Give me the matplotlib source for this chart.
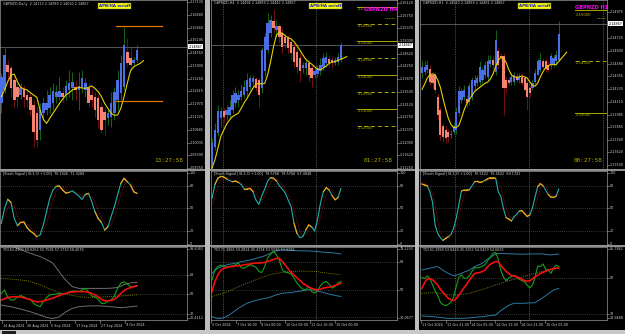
import matplotlib
matplotlib.use('Agg')
import matplotlib.pyplot as plt
import matplotlib.transforms as mtrans
from matplotlib.patches import Rectangle

# ---------------- DATA ----------------
# Panel 1 : GBPNZD Daily (Heiken Ashi candles)
d1_open = [2.1201, 2.1269, 2.1395, 2.1378, 2.1319, 2.1282, 2.1243, 2.1272, 2.1243, 2.1235,
           2.1193, 2.1151, 2.1067, 2.1151, 2.1168, 2.1176, 2.1201, 2.1235, 2.1235, 2.1252,
           2.1243, 2.1269, 2.1277, 2.1285, 2.1269, 2.1277, 2.1269, 2.1277, 2.1243, 2.1235,
           2.1227, 2.1184, 2.1159, 2.1126, 2.1134, 2.1151, 2.1218, 2.1252, 2.1285, 2.1462,
           2.1429, 2.1403, 2.1420]
d1_close = [2.1336, 2.1445, 2.1361, 2.1277, 2.1218, 2.1235, 2.1277, 2.1235, 2.1218, 2.1168,
            2.1058, 2.1016, 2.1168, 2.1201, 2.1201, 2.1243, 2.1265, 2.1260, 2.1265, 2.1232,
            2.1289, 2.1302, 2.1311, 2.1269, 2.1289, 2.1328, 2.1302, 2.1201, 2.1218, 2.1168,
            2.1117, 2.1067, 2.1117, 2.1151, 2.1201, 2.1260, 2.1319, 2.1403, 2.1496, 2.1403,
            2.1395, 2.1420, 2.1471]
d1_high = [2.1353, 2.1479, 2.1420, 2.1395, 2.1336, 2.1302, 2.1302, 2.1294, 2.1269, 2.1252,
           2.1218, 2.1184, 2.1201, 2.1235, 2.1269, 2.1285, 2.1302, 2.1294, 2.1336, 2.1285,
           2.1319, 2.1370, 2.1361, 2.1319, 2.1361, 2.1370, 2.1328, 2.1302, 2.1269, 2.1260,
           2.1243, 2.1201, 2.1184, 2.1168, 2.1260, 2.1285, 2.1370, 2.1445, 2.1588, 2.1529,
           2.1487, 2.1437, 2.1495]
d1_low = [2.1151, 2.1252, 2.1319, 2.1235, 2.1184, 2.1184, 2.1218, 2.1184, 2.1184, 2.1142,
          2.0983, 2.0983, 2.1016, 2.1117, 2.1142, 2.1151, 2.1168, 2.1201, 2.1218, 2.1210,
          2.1218, 2.1235, 2.1218, 2.1218, 2.1168, 2.1252, 2.1235, 2.1184, 2.1184, 2.1134,
          2.1075, 2.1050, 2.1041, 2.1092, 2.1083, 2.1117, 2.1168, 2.1218, 2.1269, 2.1386,
          2.1370, 2.1395, 2.1412]
d1_ma = [2.1235, 2.1269, 2.1311, 2.1344, 2.1349, 2.1311, 2.1282, 2.1274, 2.1269, 2.1255,
         2.1243, 2.1232, 2.1168, 2.1121, 2.1100, 2.1126, 2.1151, 2.1176, 2.1201, 2.1223,
         2.1243, 2.1255, 2.1269, 2.1275, 2.1282, 2.1279, 2.1277, 2.1282, 2.1289, 2.1277,
         2.1260, 2.1235, 2.1201, 2.1176, 2.1151, 2.1142, 2.1142, 2.1176, 2.1235, 2.1302,
         2.1366, 2.1386, 2.1395, 2.1403, 2.1417]
d1_hlines = [2.1592, 2.1213]
d1_price_ticks = [2.17130, 2.16480, 2.15840, 2.15195, 2.14550, 2.13900, 2.13260,
                  2.12615, 2.11970, 2.11325, 2.10685, 2.10035, 2.09390, 2.08750]
d1_time_labels = ["14 Aug 2024", "26 Aug 2024", "5 Sep 2024", "17 Sep 2024", "27 Sep 2024", "9 Oct 2024"]
d1_time_pos = [0.2, 7.6, 15.1, 22.8, 30.6, 38.3]

s1_main = [29.8, 49.8, 61.8, 57.8, 36.4, 26.7, 31.1, 31.6, 24.0, 19.6, 16.4, 12.0, 14.2, 27.6, 45.3,
           63.1, 74.2, 79.1, 79.6, 74.2, 70.2, 71.1, 73.3, 69.8, 66.2, 61.8, 68.4, 69.8, 58.7, 45.3,
           36.4, 31.1, 20.9, 25.3, 38.7, 52.0, 67.6, 83.1, 89.8, 85.3, 80.9, 72.0, 69.8]
s1_signal = [35, 40, 50, 56, 52, 40, 31, 30, 29, 25, 20, 16, 14, 18, 29, 45, 61, 72, 77, 78, 75, 72,
             72, 71, 70, 66, 65, 67, 66, 58, 47, 38, 30, 26, 28, 38, 53, 68, 80, 86, 85, 79, 74]
s1_orange = [2, 5, 6, 7, 8, 9, 10, 17, 18, 19, 20, 26, 29, 30, 32, 37, 38, 40, 41]

t1_green = [50.9, 54.0, 47.2, 44.8, 44.8, 47.8, 48.8, 47.8, 46.0, 45.4, 41.7, 39.8, 38.6, 43.2, 47.2,
            49.4, 50.0, 50.3, 50.9, 50.0, 50.9, 52.2, 53.1, 53.1, 52.5, 54.0, 55.5, 52.5, 48.5, 47.8,
            45.4, 41.7, 41.7, 43.8, 44.8, 48.5, 55.5, 60.2, 61.7, 59.5, 57.1, 57.1, 57.7]
t1_red = [44.8, 46.0, 47.2, 47.5, 47.8, 47.8, 47.5, 46.9, 46.0, 45.1, 43.8, 43.2, 43.2, 43.8, 44.8,
          45.7, 46.6, 47.8, 49.1, 50.0, 50.9, 51.8, 52.2, 52.5, 52.5, 52.5, 52.5, 51.8, 50.9, 49.4,
          47.8, 45.4, 44.2, 44.2, 44.5, 45.4, 47.8, 50.9, 53.4, 55.2, 56.2, 57.1, 58.0]
t1_base = [64.8, 64.6, 64.3, 64.1, 63.8, 63.5, 63.2, 62.8, 62.5, 61.7, 60.8, 60.0, 58.8, 57.5, 56.2,
           55.0, 53.8, 52.5, 51.8, 51.0, 50.2, 49.5, 49.0, 48.5, 48.0, 47.5, 47.4, 47.3, 47.2, 47.3,
           47.4, 47.5, 47.7, 47.8, 48.0, 48.2, 48.3, 48.5, 48.7, 49.0, 49.2, 49.4, 49.6]
t1_upper = [99, 98, 96.5, 95, 93.5, 92.5, 91.5, 90, 88.8, 87.8, 86.8, 85.8, 84.8, 83.5, 82, 80.5,
            78.6, 74.5, 70.5, 66.3, 63, 60, 57.1, 56.3, 55.5, 55.5, 55.5, 55.5, 55.5, 55.5, 55.5,
            55.5, 55.5, 55.6, 55.7, 56.0, 56.5, 57.5, 59, 59.8, 60.5, 60.8, 61]
t1_lower = [40.2, 39.7, 39.1, 38.6, 37.9, 37.2, 36.5, 35.7, 34.8, 34.0, 33.0, 32.0, 31.0, 29.9, 28.8,
            28.3, 27.8, 28.6, 29.4, 31.7, 34.0, 35.6, 37.1, 37.9, 38.6, 38.9, 39.2, 39.3, 39.4, 39.4,
            39.5, 39.3, 39.1, 38.9, 38.6, 38.3, 38.0, 37.7, 38.0, 38.3, 38.6, 38.9, 39.2]

# Panel 2 : GBPNZD H4
d2_open = [2.1125, 2.1188, 2.1228, 2.1272, 2.1292, 2.1282, 2.1282, 2.1297, 2.1316, 2.1326,
           2.1336, 2.1341, 2.1351, 2.1365, 2.1380, 2.1387, 2.1385, 2.1361, 2.1410, 2.1473,
           2.1523, 2.1560, 2.1532, 2.1544, 2.1523, 2.1513, 2.1508, 2.1498, 2.1483, 2.1468,
           2.1449, 2.1420, 2.1420, 2.1434, 2.1420, 2.1400, 2.1403, 2.1410, 2.1424, 2.1434,
           2.1446, 2.1444, 2.1436, 2.1439, 2.1444]
d2_close = [2.1198, 2.1237, 2.1292, 2.1292, 2.1277, 2.1297, 2.1306, 2.1341, 2.1346, 2.1341,
            2.1351, 2.1365, 2.1385, 2.1390, 2.1390, 2.1361, 2.1341, 2.1473, 2.1513, 2.1552,
            2.1562, 2.1537, 2.1544, 2.1513, 2.1483, 2.1493, 2.1478, 2.1464, 2.1439, 2.1424,
            2.1410, 2.1429, 2.1434, 2.1400, 2.1390, 2.1410, 2.1420, 2.1429, 2.1449, 2.1454,
            2.1434, 2.1434, 2.1444, 2.1452, 2.1487]
d2_high = [2.1213, 2.1257, 2.1311, 2.1306, 2.1302, 2.1311, 2.1326, 2.1356, 2.1365, 2.1356,
           2.1370, 2.1385, 2.1405, 2.1400, 2.1400, 2.1395, 2.1390, 2.1483, 2.1523, 2.1582,
           2.1577, 2.1591, 2.1562, 2.1552, 2.1537, 2.1523, 2.1518, 2.1508, 2.1495, 2.1478,
           2.1464, 2.1439, 2.1444, 2.1444, 2.1429, 2.1424, 2.1429, 2.1449, 2.1464, 2.1468,
           2.1459, 2.1454, 2.1454, 2.1464, 2.1498]
d2_low = [2.1120, 2.1178, 2.1218, 2.1247, 2.1262, 2.1267, 2.1272, 2.1287, 2.1306, 2.1306,
          2.1326, 2.1331, 2.1336, 2.1356, 2.1365, 2.1351, 2.1306, 2.1346, 2.1395, 2.1464,
          2.1513, 2.1523, 2.1513, 2.1493, 2.1464, 2.1478, 2.1464, 2.1444, 2.1419, 2.1405,
          2.1380, 2.1405, 2.1400, 2.1380, 2.1365, 2.1390, 2.1395, 2.1400, 2.1415, 2.1424,
          2.1424, 2.1420, 2.1429, 2.1429, 2.1439]
d2_ma = [2.1125, 2.1149, 2.1183, 2.1218, 2.1237, 2.1255, 2.1267, 2.1277, 2.1282, 2.1287,
         2.1302, 2.1318, 2.1331, 2.1346, 2.1361, 2.1372, 2.1375, 2.1373, 2.1375, 2.1400,
         2.1439, 2.1483, 2.1518, 2.1525, 2.1523, 2.1515, 2.1510, 2.1506, 2.1498, 2.1486,
         2.1473, 2.1459, 2.1446, 2.1438, 2.1432, 2.1424, 2.1417, 2.1415, 2.1420, 2.1426,
         2.1434, 2.1438, 2.1439, 2.1443, 2.1446, 2.1450, 2.1454]
d2_levels = [2.16000, 2.15500, 2.15000, 2.14500, 2.14000, 2.13500, 2.13000, 2.12500]
d2_level_labels = ["2.16000", "2.15500", "2.15000", "2.14500", "2.14000", "2.13500", "2.13000", "2.12500"]
d2_price_ticks = [2.16120, 2.15750, 2.15370, 2.15000, 2.14620, 2.14250, 2.13870,
                  2.13500, 2.13120, 2.12750, 2.12370, 2.12000, 2.11620, 2.11250]
d2_time_labels = ["3 Oct 2024", "7 Oct 16:00", "9 Oct 00:00", "10 Oct 08:00", "11 Oct 16:00", "15 Oct 00:00"]
d2_time_pos = [-0.3, 8.2, 16.4, 24.9, 33.4, 41.9]
d2_separators = [3.8, 35.5]

s2_main = [63.1, 81.8, 89.8, 92.4, 91.6, 88.9, 86.7, 85.3, 86.2, 84.4, 81.3, 75.6, 75.6, 76.4, 72.0,
           60.9, 55.1, 66.7, 75.6, 86.2, 90.7, 89.8, 86.2, 80.0, 75.6, 70.2, 60.9, 52.0, 29.8, 16.4,
           10.7, 12.0, 20.9, 27.6, 25.3, 19.6, 34.2, 56.4, 72.0, 77.3, 74.2, 66.7, 61.3, 64.0, 76.4]
s2_signal = [55, 65, 78, 88, 91, 91, 89, 87, 86, 85, 84, 81, 78, 76, 75, 70, 63, 61, 66, 76, 84, 89,
             89, 85, 81, 75, 69, 61, 47, 33, 19, 13, 15, 20, 24, 24, 26, 37, 54, 68, 75, 73, 68, 64, 67]
s2_orange = [1, 2, 3, 4, 7, 8, 11, 12, 13, 20, 21, 28, 32, 33, 38, 39, 41, 42]

t2_green = [56.6, 63.2, 65.4, 66.3, 65.4, 64.9, 65.4, 65.8, 66.5, 67.6, 64.5, 64.3, 65.4, 66.5, 65.8,
            64.9, 62.1, 61.4, 65.4, 70.9, 73.5, 75.3, 73.1, 69.3, 63.2, 61.6, 61.2, 60.5, 57.7, 54.4,
            52.2, 50.4, 50.0, 52.2, 48.9, 47.8, 49.6, 52.6, 54.8, 55.5, 53.7, 51.1, 52.2, 54.4, 55.5]
t2_red = [48.9, 55.5, 59.9, 62.7, 64.1, 64.7, 65.2, 65.4, 65.6, 65.8, 66.0, 66.5, 66.7, 67.1, 67.4,
          67.6, 67.6, 67.8, 68.0, 68.7, 69.3, 70.0, 70.7, 70.7, 68.7, 66.3, 63.8, 61.4, 59.7, 57.9,
          56.2, 54.4, 53.1, 52.0, 50.9, 50.2, 50.0, 50.4, 51.1, 51.5, 51.8, 52.2, 52.9, 53.5, 54.4]
t2_base = [45.6, 46.2, 46.8, 47.3, 47.9, 48.5, 49.4, 50.3, 51.1, 52.0, 52.9, 53.6, 54.4, 55.1, 55.9,
           56.6, 57.3, 58.0, 58.7, 59.4, 60.1, 60.5, 60.8, 61.2, 61.5, 61.9, 62.0, 62.1, 62.2, 62.2,
           62.3, 62.3, 62.3, 62.2, 62.2, 62.1, 61.9, 61.6, 61.3, 61.1, 60.8, 60.6, 60.4, 60.1, 59.9]
t2_upper = [61.0, 62.6, 64.3, 65.0, 65.8, 66.4, 66.9, 67.2, 67.6, 68.0, 68.5, 68.9, 69.3, 69.7, 70.2,
            70.7, 71.3, 71.8, 72.4, 73.3, 74.2, 75.0, 75.7, 76.0, 76.4, 76.3, 76.2, 76.0, 75.9, 75.8,
            75.7, 75.7, 75.7, 75.6, 75.5, 75.4, 75.3, 75.0, 74.8, 74.7, 74.6, 74.4, 74.2, 73.9, 73.7]
t2_lower = [32.4, 31.6, 30.9, 31.2, 31.5, 32.5, 33.5, 35.0, 36.4, 37.7, 39.0, 40.1, 41.2, 41.8, 42.5,
            43.0, 43.4, 43.9, 44.3, 44.7, 45.2, 46.0, 46.7, 47.2, 47.8, 47.9, 48.0, 48.2, 48.5, 48.8,
            49.1, 49.4, 49.8, 49.9, 50.0, 49.6, 49.1, 48.7, 48.2, 47.6, 47.1, 46.7, 46.3, 45.9, 45.6]

# Panel 3 : GBPNZD H1
d3_open = [2.1439, 2.1440, 2.1442, 2.1443, 2.1437, 2.1437, 2.1416, 2.1403, 2.1387, 2.1384,
           2.1382, 2.1379, 2.1382, 2.1384, 2.1400, 2.1413, 2.1416, 2.1414, 2.1411, 2.1416,
           2.1426, 2.1429, 2.1430, 2.1432, 2.1437, 2.1435, 2.1448, 2.1451, 2.1440, 2.1460,
           2.1455, 2.1455, 2.1432, 2.1432, 2.1430, 2.1430, 2.1435, 2.1432, 2.1435, 2.1434,
           2.1429, 2.1424, 2.1424, 2.1430, 2.1437, 2.1442, 2.1450, 2.1450, 2.1447, 2.1447,
           2.1448, 2.1450, 2.1451]
d3_close = [2.1445, 2.1445, 2.1447, 2.1430, 2.1429, 2.1422, 2.1398, 2.1379, 2.1377, 2.1376,
            2.1377, 2.1380, 2.1387, 2.1401, 2.1421, 2.1421, 2.1422, 2.1410, 2.1426, 2.1432,
            2.1432, 2.1434, 2.1445, 2.1442, 2.1447, 2.1450, 2.1451, 2.1447, 2.1471, 2.1447,
            2.1453, 2.1424, 2.1424, 2.1429, 2.1435, 2.1437, 2.1432, 2.1435, 2.1429, 2.1422,
            2.1416, 2.1419, 2.1429, 2.1439, 2.1450, 2.1451, 2.1445, 2.1443, 2.1442, 2.1455,
            2.1453, 2.1456, 2.1477]
d3_high = [2.1450, 2.1450, 2.1451, 2.1447, 2.1440, 2.1440, 2.1419, 2.1406, 2.1390, 2.1387,
           2.1385, 2.1384, 2.1390, 2.1406, 2.1426, 2.1424, 2.1427, 2.1418, 2.1429, 2.1435,
           2.1437, 2.1437, 2.1450, 2.1445, 2.1450, 2.1456, 2.1456, 2.1455, 2.1481, 2.1463,
           2.1458, 2.1458, 2.1435, 2.1435, 2.1439, 2.1440, 2.1439, 2.1439, 2.1439, 2.1437,
           2.1432, 2.1427, 2.1432, 2.1443, 2.1453, 2.1458, 2.1453, 2.1453, 2.1450, 2.1458,
           2.1456, 2.1461, 2.1489]
d3_low = [2.1434, 2.1437, 2.1439, 2.1427, 2.1424, 2.1419, 2.1393, 2.1374, 2.1372, 2.1371,
          2.1372, 2.1376, 2.1380, 2.1380, 2.1397, 2.1410, 2.1413, 2.1406, 2.1408, 2.1413,
          2.1422, 2.1426, 2.1427, 2.1429, 2.1434, 2.1432, 2.1445, 2.1443, 2.1437, 2.1443,
          2.1450, 2.1398, 2.1419, 2.1427, 2.1427, 2.1427, 2.1429, 2.1429, 2.1427, 2.1421,
          2.1403, 2.1416, 2.1422, 2.1427, 2.1437, 2.1440, 2.1443, 2.1440, 2.1440, 2.1443,
          2.1445, 2.1447, 2.1450]
d3_ma = [2.1423, 2.1428, 2.1434, 2.1437, 2.1438, 2.1437, 2.1432, 2.1425, 2.1414, 2.1404,
         2.1395, 2.1389, 2.1386, 2.1386, 2.1388, 2.1395, 2.1403, 2.1409, 2.1413, 2.1417,
         2.1421, 2.1423, 2.1425, 2.1427, 2.1429, 2.1430, 2.1433, 2.1438, 2.1445, 2.1451,
         2.1454, 2.1453, 2.1449, 2.1442, 2.1437, 2.1435, 2.1435, 2.1435, 2.1436, 2.1435,
         2.1434, 2.1430, 2.1427, 2.1426, 2.1429, 2.1435, 2.1440, 2.1444, 2.1446, 2.1447,
         2.1447, 2.1447, 2.1450, 2.1453, 2.1456, 2.1459]
d3_levels = [2.15000, 2.14500, 2.14000]
d3_level_labels = ["2.15000", "2.14500", "2.14000"]
d3_price_ticks = [2.14975, 2.14725, 2.14600, 2.14480, 2.14355, 2.14235, 2.14110,
                  2.13985, 2.13865, 2.13740, 2.13620, 2.13500]
d3_time_labels = ["11 Oct 2024", "11 Oct 21:00", "14 Oct 05:00", "14 Oct 13:00", "14 Oct 21:00", "15 Oct 05:00"]
d3_time_pos = [-0.4, 9.1, 18.3, 27.8, 37.3, 46.8]
d3_separators = [12.5, 40.7]

s3_main = [82.2, 80.9, 79.6, 72.0, 57.8, 27.6, 16.4, 10.7, 7.1, 9.8, 12.0, 15.1, 23.1, 36.4, 54.2,
           72.9, 74.2, 74.2, 74.7, 80.0, 85.3, 85.8, 84.4, 85.3, 87.1, 89.3, 90.7, 90.7, 89.8, 72.0,
           65.3, 48.9, 37.3, 35.6, 32.9, 38.7, 41.8, 46.2, 46.7, 42.7, 39.1, 40.9, 50.7, 65.3, 78.7,
           82.7, 80.0, 74.2, 68.4, 64.9, 64.4, 66.2, 75.6]
s3_signal = [84, 83, 81, 78, 70, 53, 34, 18, 11, 9, 10, 12, 17, 25, 38, 55, 67, 74, 75, 76, 80, 83,
             85, 85, 86, 87, 89, 90, 90, 84, 76, 62, 50, 41, 36, 36, 38, 42, 45, 45, 43, 41, 44, 52,
             65, 76, 80, 79, 74, 69, 66, 65, 69]
s3_orange = [0, 1, 8, 9, 15, 16, 17, 20, 21, 22, 24, 25, 26, 27, 32, 33, 37, 38, 39, 40, 44, 45, 48, 49, 50]

t3_green = [50.5, 49.8, 51.3, 50.0, 46.6, 43.6, 41.2, 37.9, 36.7, 36.2, 36.9, 38.0, 40.4, 45.8, 50.5,
            51.7, 50.0, 50.0, 51.2, 53.5, 55.4, 55.2, 55.6, 56.1, 56.9, 58.9, 60.6, 62.6, 63.0, 59.6,
            53.9, 50.5, 48.8, 50.2, 50.8, 51.5, 50.8, 49.5, 48.8, 48.3, 46.5, 45.1, 46.6, 50.5, 56.2,
            55.9, 57.2, 54.7, 54.2, 52.5, 55.1, 56.6, 55.9]
t3_red = [44.9, 47.8, 49.7, 49.8, 49.2, 48.1, 46.5, 44.4, 42.8, 41.4, 39.9, 39.1, 38.7, 39.7, 41.6,
          43.3, 45.3, 47.0, 49.0, 50.8, 52.4, 52.7, 52.9, 53.5, 54.2, 55.9, 57.1, 57.9, 58.4, 58.4,
          56.4, 54.9, 53.5, 52.4, 51.3, 51.2, 50.8, 50.2, 49.5, 48.8, 48.5, 48.7, 49.7, 50.8, 51.5,
          52.4, 53.0, 53.5, 54.2, 54.5, 54.9, 55.1, 55.1]
t3_base = [42.4, 42.5, 42.6, 42.6, 42.7, 42.8, 42.6, 42.3, 42.1, 41.8, 41.6, 41.6, 41.6, 41.6, 41.6,
           41.8, 42.0, 42.2, 42.4, 42.8, 43.2, 43.6, 44.0, 44.4, 44.8, 45.3, 45.7, 46.2, 46.6, 47.0,
           47.5, 47.9, 48.4, 48.8, 49.1, 49.5, 49.8, 50.2, 50.5, 50.9, 51.3, 51.7, 52.1, 52.5, 52.8,
           53.2, 53.5, 53.9, 54.2, 54.4, 54.7, 54.9, 55.1]
t3_upper = [54.2, 54.5, 54.8, 55.1, 55.4, 55.7, 55.9, 55.0, 54.0, 53.2, 52.5, 51.8, 51.2, 51.6, 52.0,
            52.5, 53.1, 53.6, 54.2, 55.0, 55.9, 56.5, 57.0, 57.6, 58.7, 59.8, 60.6, 61.5, 62.3, 62.5,
            62.6, 62.5, 62.4, 62.4, 62.3, 62.3, 62.2, 62.2, 62.1, 62.2, 62.2, 62.3, 62.3, 62.3, 62.3,
            62.3, 62.3, 62.1, 61.9, 61.8, 62.0, 62.1, 62.3]
t3_lower = [31.0, 30.9, 30.8, 30.7, 30.6, 30.5, 30.4, 30.2, 30.1, 29.9, 29.8, 29.8, 29.8, 29.8, 29.8,
            29.8, 29.8, 29.9, 30.0, 30.1, 30.3, 30.4, 30.5, 30.6, 30.8, 31.0, 31.2, 31.3, 31.5, 32.6,
            33.7, 34.6, 35.5, 36.4, 36.9, 37.4, 37.4, 37.4, 37.4, 37.4, 37.5, 37.6, 37.6, 37.7, 38.6,
            39.4, 40.3, 41.2, 42.1, 43.1, 44.1, 44.5, 44.9]

current_price = 2.14867
headers = ["GBPNZD,Daily  2.14113 2.14989 2.14030 2.14867",
           "GBPNZD,H4  2.14494 2.14889 2.14442 2.14867",
           "GBPNZD,H1  2.14520 2.14889 2.14481 2.14867"]
stoch_headers = ["[Stoch Signal] (8,3,3) +1.00]  76.1026  71.3284",
                 "[Stoch Signal] (8,3,3) +1.00]  78.5768  78.5768  67.4048",
                 "[Stoch Signal] (8,3,3) +1.00]  76.5622  76.5622  69.1741"]
tdi_headers = ["TDI 61.4900 60.6263 55.7596 57.1710 58.4676",
               "TDI 71.3866 59.4824 45.4194 53.5086 53.6286",
               "TDI 61.3999 53.6428 45.2252 54.5429 54.6625"]
clocks = ["13:27:58", "01:27:58", "00:27:58"]

# ---------------- DRAWING ----------------
W, H = 625, 334
fig = plt.figure(figsize=(W / 100, H / 100), dpi=100)
fig.patch.set_facecolor('black')

def rect(x, y, w, h):
    return [x / W, 1 - (y + h) / H, w / W, h / H]

bg = fig.add_axes([0, 0, 1, 1])
bg.set_xlim(0, W)
bg.set_ylim(H, 0)
bg.axis('off')
bg.set_zorder(-10)
for (gx, gw) in [(205, 5), (415, 4)]:
    bg.add_patch(Rectangle((gx, 0), gw, 331, color='#BDBDBD', lw=0))
for (wx, ww) in [(0, 205), (210, 205), (419, 206)]:
    bg.add_patch(Rectangle((wx, 169), ww, 2, color='#8E8E8E', lw=0))
    bg.add_patch(Rectangle((wx, 245), ww, 2, color='#8E8E8E', lw=0))
bg.add_patch(Rectangle((0, 330), W, 4, color='#C8C8C8', lw=0))
bg.add_patch(Rectangle((2, 330.5), 14, 3.5, color='#202020', lw=0))

TXT = '#CFCFCF'
FS = 2.4
BULL, BEAR = '#4A6EE6', '#F7826F'
WBULL, WBEAR = '#1E8C1E', '#A01616'

def style_axes(ax):
    ax.set_facecolor('black')
    ax.set_xticks([])
    ax.set_yticks([])
    for s in ax.spines.values():
        s.set_color('#9A9A9A')
        s.set_linewidth(0.5)

def right_labels(ax, w, values, labels):
    tr = ax.get_yaxis_transform()
    for v, s in zip(values, labels):
        ax.plot([1.0, 1.0 + 1.5 / w], [v, v], transform=tr, color='#AAAAAA', lw=0.4, clip_on=False)
        ax.text(1.0 + 2.5 / w, v, s, transform=tr, ha='left', va='center', fontsize=FS, color=TXT, clip_on=False)

panels = [
    dict(x0=0, w=187, bar0=1.3, sp=3.23, o=d1_open, c=d1_close, hi=d1_high, lo=d1_low, ma=d1_ma,
         ylim=(2.0870, 2.1723), ticks=d1_price_ticks, tl=d1_time_labels, tp=d1_time_pos, seps=[],
         sm=s1_main, ss=s1_signal, so=s1_orange,
         tg=t1_green, tr=t1_red, tb=t1_base, tu=t1_upper, tlw=t1_lower, bandc='#6E6E6E',
         tdi_ylim=(26.41, 93.61), tdi_lab=("93.6083", "26.4112"), tdi_levels=[68, 50, 32]),
    dict(x0=211, w=186, bar0=212, sp=2.93, o=d2_open, c=d2_close, hi=d2_high, lo=d2_low, ma=d2_ma,
         ylim=(2.1122, 2.1621), ticks=d2_price_ticks, tl=d2_time_labels, tp=d2_time_pos, seps=d2_separators,
         sm=s2_main, ss=s2_signal, so=s2_orange,
         tg=t2_green, tr=t2_red, tb=t2_base, tu=t2_upper, tlw=t2_lower, bandc='#2A78A2',
         tdi_ylim=(30.07, 78.22), tdi_lab=("78.2233", "30.0677"), tdi_levels=[68, 50, 32]),
    dict(x0=420, w=187, bar0=422, sp=2.63, o=d3_open, c=d3_close, hi=d3_high, lo=d3_low, ma=d3_ma,
         ylim=(2.13458, 2.15096), ticks=d3_price_ticks, tl=d3_time_labels, tp=d3_time_pos, seps=d3_separators,
         sm=s3_main, ss=s3_signal, so=s3_orange,
         tg=t3_green, tr=t3_red, tb=t3_base, tu=t3_upper, tlw=t3_lower, bandc='#2A78A2',
         tdi_ylim=(28.95, 65.79), tdi_lab=("65.7862", "28.9488"), tdi_levels=[68, 50, 32]),
]

for k, P in enumerate(panels):
    x0, w, sp = P['x0'], P['w'], P['sp']
    left = -(P['bar0'] - x0) / sp
    right = (x0 + w - P['bar0']) / sp
    bw = 0.8

    # ---- main chart ----
    ax = fig.add_axes(rect(x0, 0, w, 169))
    style_axes(ax)
    ax.set_xlim(left, right)
    ax.set_ylim(*P['ylim'])
    n = len(P['o'])
    for i in range(n):
        o, c = P['o'][i], P['c'][i]
        bull = c >= o
        ax.vlines(i, P['lo'][i], P['hi'][i], color=WBULL if bull else WBEAR, lw=0.5, zorder=2)
        ax.bar(i, c - o, bottom=o, width=bw, color=BULL if bull else BEAR, lw=0, zorder=3)
    ax.plot(range(len(P['ma'])), P['ma'], color='#E6D000', lw=0.8, zorder=4)
    ax.axhline(current_price, color='#7A7A7A', lw=0.5, zorder=1)
    for sx in P['seps']:
        ax.axvline(sx, color='#8A8A8A', lw=0.5, ls=(0, (1, 1.5)), zorder=1)
    right_labels(ax, w, P['ticks'], ['%.5f' % v for v in P['ticks']])
    ax.text(1.0 + 1.5 / w, current_price, '%.5f' % current_price, transform=ax.get_yaxis_transform(),
            ha='left', va='center', fontsize=FS, color='black', clip_on=False, zorder=6,
            bbox=dict(facecolor='white', edgecolor='white', pad=0.25, lw=0))
    ax.text(3 / w, 1 - 3.5 / 169, headers[k], transform=ax.transAxes, ha='left', va='center',
            fontsize=FS, color=TXT)
    ax.text(114.5 / w, 1 - 6 / 169, 'APB/HA on/off', transform=ax.transAxes, ha='center', va='center',
            fontsize=2.9, color='#1414C8', weight='bold', zorder=7,
            bbox=dict(facecolor='#FFFF00', edgecolor='#707070', pad=0.5, lw=0.3))
    ax.text(1 - 4 / w, 9 / 169, clocks[k], transform=ax.transAxes, ha='right', va='center',
            fontsize=4.3, color='#B0A800', family='DejaVu Sans Mono')

    if k == 0:
        for hv in d1_hlines:
            ax.plot([35.5, 49.8], [hv, hv], color='#E07800', lw=0.9, zorder=4)
    if k == 1:
        xs_l = (357 - P['bar0']) / sp
        for j, (lv, lab) in enumerate(zip(d2_levels, d2_level_labels)):
            ls = '-' if j % 2 == 0 else (0, (4, 3))
            ax.plot([xs_l, right], [lv, lv], color='#A8A800', lw=0.7, ls=ls, zorder=4)
            if j > 0:
                ax.text(xs_l + 0.4, lv, lab, ha='left', va='top', fontsize=2.7, color='#B8B800', zorder=5)
        ax.text(xs_l + 0.4, d2_levels[0], '2.1', ha='left', va='top', fontsize=2.7, color='#B8B800', zorder=5)
        ax.plot([59, 62.4], [2.1567, 2.1567], color='#A8A800', lw=0.6, ls=(0, (1, 1)))
        ax.text((364 - P['bar0']) / sp, 2.1612 - 6 * 0.000295, 'GBPNZD H4', ha='left', va='center',
                fontsize=3.6, color='#FF00FF', weight='bold', zorder=8)
    if k == 2:
        xs_l = (575 - P['bar0']) / sp
        for j, (lv, lab) in enumerate(zip(d3_levels, d3_level_labels)):
            ls = '-' if j % 2 == 0 else (0, (4, 3))
            ax.plot([xs_l, right], [lv, lv], color='#A8A800', lw=0.7, ls=ls, zorder=4)
            if j > 0:
                ax.text(xs_l + 0.4, lv, lab, ha='left', va='top', fontsize=2.7, color='#B8B800', zorder=5)
        ax.text(xs_l + 0.4, d3_levels[0] - 0.0003, d3_level_labels[0], ha='left', va='top',
                fontsize=2.7, color='#B8B800', zorder=5)
        ax.plot([66.5, 69.6], [2.1492, 2.1492], color='#A8A800', lw=0.6, ls=(0, (1, 1)))
        ax.axvline((603 - P['bar0']) / sp, color='#8A8A8A', lw=0.5, ls=(0, (1, 1.5)), zorder=1)
        ax.text((575 - P['bar0']) / sp, 2.15096 - 7.5 * 0.0000969, 'GBPNZD H1', ha='left', va='center',
                fontsize=3.6, color='#FF00FF', weight='bold', zorder=8)

    # ---- stochastic ----
    sa = fig.add_axes(rect(x0, 171, w, 74))
    style_axes(sa)
    sa.set_xlim(left, right)
    sa.set_ylim(1, 99.6)
    for lv in [80, 50, 20]:
        sa.axhline(lv, color='#6A6A6A', lw=0.5, ls=(0, (1, 2)))
    for sx in P['seps']:
        sa.axvline(sx, color='#8A8A8A', lw=0.5, ls=(0, (1, 1.5)))
    sa.plot(range(len(P['ss'])), P['ss'], color='#9A1010', lw=0.6, ls=(0, (1, 1)))
    sm = P['sm']
    sa.plot(range(len(sm)), sm, color='#20B2AA', lw=0.8)
    for i in P['so']:
        sa.plot([i, i + 1], [sm[i], sm[i + 1]], color='#FFA000', lw=0.8)
    right_labels(sa, w, [97, 80, 50, 20, 2], ['100', '80', '50', '20', '0'])
    sa.text(3 / w, 1 - 3 / 74, stoch_headers[k], transform=sa.transAxes, ha='left', va='center',
            fontsize=FS, color=TXT)

    # ---- TDI ----
    ta = fig.add_axes(rect(x0, 247, w, 73))
    style_axes(ta)
    ta.set_xlim(left, right)
    lo_, hi_ = P['tdi_ylim']
    ta.set_ylim(lo_, hi_)
    for lv in P['tdi_levels']:
        ta.axhline(lv, color='#6A6A6A', lw=0.5, ls=(0, (1, 2)))
    for sx in P['seps']:
        ta.axvline(sx, color='#8A8A8A', lw=0.5, ls=(0, (1, 1.5)))
    m = len(P['tg'])
    ta.plot(range(m), P['tu'], color=P['bandc'], lw=0.7)
    ta.plot(range(m), P['tlw'], color=P['bandc'], lw=0.7)
    ta.plot(range(m), P['tb'], color='#A0A000', lw=0.6, ls=(0, (1, 1.5)))
    ta.plot(range(m), P['tg'], color='#16A016', lw=0.8)
    ta.plot(range(m), P['tr'], color='#F01010', lw=1.2)
    vals = [v for v in P['tdi_levels'] if lo_ + 2 < v < hi_ - 2]
    right_labels(ta, w, [hi_ - (hi_ - lo_) * 0.03] + vals + [lo_ + (hi_ - lo_) * 0.03],
                 [P['tdi_lab'][0]] + [str(v) for v in vals] + [P['tdi_lab'][1]])
    ta.text(3 / w, 1 - 3 / 73, tdi_headers[k], transform=ta.transAxes, ha='left', va='center',
            fontsize=FS, color=TXT)
    bt = mtrans.blended_transform_factory(ta.transData, ta.transAxes)
    for pos, lab in zip(P['tp'], P['tl']):
        ta.plot([pos, pos], [0, -2.5 / 73], transform=bt, color='#AAAAAA', lw=0.4, clip_on=False)
        ta.text(pos + 1.0 / sp, -5.5 / 73, lab, transform=bt, ha='left', va='center',
                fontsize=FS, color=TXT, clip_on=False)

fig.savefig('out.png', dpi=100, facecolor='black')
